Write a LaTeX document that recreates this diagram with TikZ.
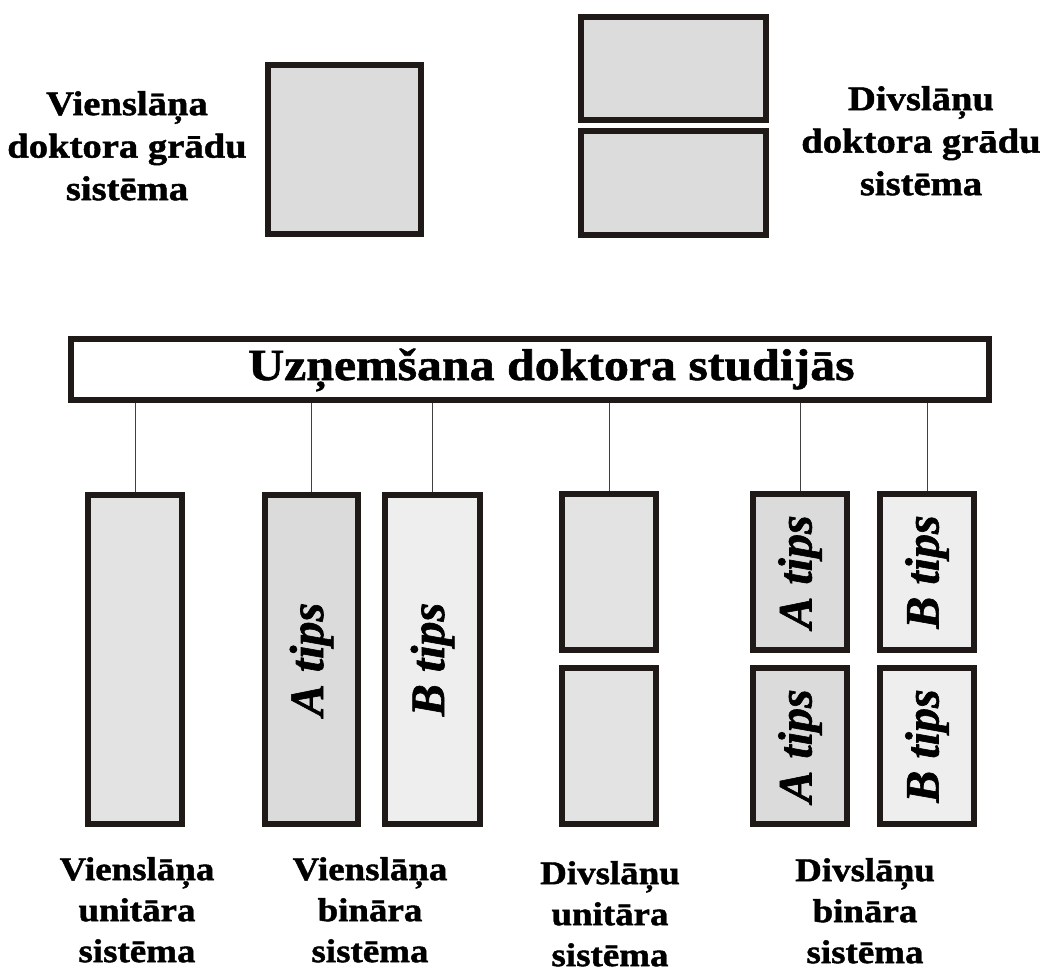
\documentclass[tikz,border=0pt]{standalone}
\usepackage{fontspec}
\setmainfont{Liberation Serif}
\newfontfamily\labfont[FakeStretch=1.12,FakeBold=1.3]{Liberation Serif}
\newfontfamily\tipfont[FakeBold=1.3]{Liberation Serif}
\definecolor{bordercol}{HTML}{1F1A17}
\definecolor{fillmid}{HTML}{DCDCDC}
\definecolor{fillA}{HTML}{DBDBDB}
\definecolor{fillB}{HTML}{EEEEEE}
\definecolor{fillU}{HTML}{E3E3E3}
\definecolor{linkcol}{HTML}{404040}
\begin{document}
\begin{tikzpicture}[x=1pt,y=-1pt,
  box/.style={draw=bordercol,line width=6pt,inner sep=0pt},
  link/.style={draw=linkcol,line width=1pt},
  lab/.style={align=center,inner sep=0pt,anchor=north,font=\labfont\bfseries\fontsize{33}{41}\selectfont},
  toplab/.style={align=center,inner sep=0pt,anchor=north,font=\labfont\bfseries\fontsize{34.5}{42.5}\selectfont},
  tiptext/.style={rotate=90,font=\tipfont\bfseries\itshape\fontsize{48}{50}\selectfont}]
\useasboundingbox (0,0) rectangle (1045,974);

% top part
\node[box,fill=fillmid,minimum width=153pt,minimum height=169pt] (tl) at (344.5,149.5) {};
\node[box,fill=fillmid,minimum width=185pt,minimum height=103pt] (tr1) at (673.5,68.5) {};
\node[box,fill=fillmid,minimum width=185pt,minimum height=104pt] (tr2) at (673.5,183) {};
\node[toplab] (tltext) at (127,91) {Vienslāņa\\doktora grādu\\sistēma};
\node[toplab] (trtext) at (921,86) {Divslāņu\\doktora grādu\\sistēma};

% banner
\node[box,fill=white,minimum width=918pt,minimum height=61pt] (banner) at (530,369.5) {};
\node[inner sep=0pt,anchor=base west,font=\labfont\bfseries\fontsize{44.5}{50}\selectfont] (bannertext) at (248,380) {Uzņemšana doktora studijās};

% lower boxes
\node[box,fill=fillU,minimum width=94pt,minimum height=329pt] (u1) at (135,659.5) {};
\node[box,fill=fillA,minimum width=93pt,minimum height=329pt] (a1) at (311.5,659.5) {};
\node[box,fill=fillB,minimum width=95pt,minimum height=329pt] (b1) at (432.5,659.5) {};
\node[box,fill=fillU,minimum width=94pt,minimum height=156pt] (du1) at (609,572) {};
\node[box,fill=fillU,minimum width=94pt,minimum height=156pt] (du2) at (609,746) {};
\node[box,fill=fillA,minimum width=94pt,minimum height=156pt] (da1) at (800,572) {};
\node[box,fill=fillA,minimum width=94pt,minimum height=156pt] (da2) at (800,746) {};
\node[box,fill=fillB,minimum width=94pt,minimum height=156pt] (db1) at (927,572) {};
\node[box,fill=fillB,minimum width=94pt,minimum height=156pt] (db2) at (927,746) {};

\node[tiptext] (ta1) at (a1.center) {A tips};
\node[tiptext] (tb1) at (b1.center) {B tips};
\node[tiptext] (tda1) at (da1.center) {A tips};
\node[tiptext] (tda2) at (da2.center) {A tips};
\node[tiptext] (tdb1) at (db1.center) {B tips};
\node[tiptext] (tdb2) at (db2.center) {B tips};

% connectors
\foreach \b in {u1,a1,b1,du1,da1,db1}{
  \draw[link] (\b.north) -- (\b.north |- banner.south);
}

% bottom labels
\node[lab] (l1) at (137,857) {Vienslāņa\\unitāra\\sistēma};
\node[lab] (l2) at (370,857) {Vienslāņa\\bināra\\sistēma};
\node[lab] (l3) at (610,861) {Divslāņu\\unitāra\\sistēma};
\node[lab] (l4) at (865,858) {Divslāņu\\bināra\\sistēma};
\end{tikzpicture}
\end{document}
